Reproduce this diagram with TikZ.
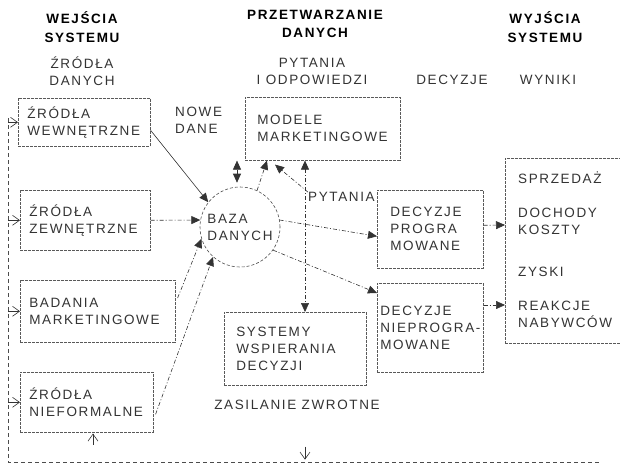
\documentclass[tikz,border=0pt]{standalone}
\usepackage{fontspec}
\setmainfont{Liberation Sans}[LetterSpace=12]
\usetikzlibrary{arrows.meta,calc}

\begin{document}
\begin{tikzpicture}[x=1pt,y=-1pt,
    font=\fontsize{13.5}{17}\selectfont,
    >={Triangle[length=9pt,width=8pt]},
    txt/.style={text=black!80,align=left,inner sep=0pt},
    head/.style={align=center,inner sep=0pt,font=\fontsize{13.5}{18.5}\selectfont\bfseries},
    box/.style={draw=black!65,dash pattern=on 3pt off 1pt,line width=0.6pt,text=black!80,
      anchor=north west,align=left,inner xsep=9pt,inner ysep=0pt},
    dsh/.style={draw=black!80,line width=0.6pt,dash pattern=on 4pt off 2pt on 1pt off 2pt},
    fb/.style={draw=black!70,line width=0.6pt,dash pattern=on 4pt off 3pt},
    fbtip/.style={draw=black!80,line width=0.6pt,-{Straight Barb[length=7pt,width=10pt]}}]
  \useasboundingbox (0,0) rectangle (620,466);

  \node[head] (hin) at (82,27) {WEJŚCIA\\SYSTEMU};
  \node[head] (hproc) at (315,24) {PRZETWARZANIE\\DANYCH};
  \node[head] (hout) at (545,27) {WYJŚCIA\\SYSTEMU};
  \node[txt,align=center] (src) at (82,71) {ŹRÓDŁA\\DANYCH};
  \node[txt,align=center] (qa) at (312,71) {PYTANIA\\I ODPOWIEDZI};
  \node[txt] (dec) at (452,80) {DECYZJE};
  \node[txt] (res) at (548,80) {WYNIKI};

  \node[box,minimum width=132,minimum height=48,text width=114] (wew) at (18,98) {ŹRÓDŁA\\WEWNĘTRZNE};
  \node[box,minimum width=130,minimum height=60,text width=112] (zew) at (20,190) {ŹRÓDŁA\\ZEWNĘTRZNE};
  \node[box,minimum width=155,minimum height=62,text width=137] (bad) at (20,280) {BADANIA\\MARKETINGOWE};
  \node[box,minimum width=133,minimum height=60,text width=115] (nieform) at (20,372) {ŹRÓDŁA\\NIEFORMALNE};
  \node[box,minimum width=155,minimum height=63,inner xsep=12pt,text width=131] (model) at (245,97) {MODELE\\MARKETINGOWE};
  \node[box,minimum width=106,minimum height=78,inner xsep=13pt,text width=80] (prog) at (377,190) {DECYZJE\\PROGRA\\MOWANE};
  \node[box,minimum width=106,minimum height=89,inner xsep=3pt,text width=100] (nprog) at (377,283) {DECYZJE\\\mbox{NIEPROGRA-}\\MOWANE};
  \node[box,minimum width=142,minimum height=73,inner xsep=12pt,text width=118] (syst) at (224,312) {SYSTEMY\\WSPIERANIA\\DECYZJI};
  \node[box,minimum width=130,minimum height=185] (wyn) at (505,158) {};
  \node[draw=black!70,dash pattern=on 3pt off 2pt,line width=0.6pt,circle,minimum size=80,
    inner sep=0pt,text=black!80,align=left] (baza) at (240,227) {BAZA\\DANYCH};

  \node[txt,anchor=west] (spr) at (518,178) {SPRZEDAŻ};
  \node[txt,anchor=west] (doch) at (518,221) {DOCHODY\\KOSZTY};
  \node[txt,anchor=west] (zysk) at (518,272) {ZYSKI};
  \node[txt,anchor=west] (reak) at (518,314) {REAKCJE\\NABYWCÓW};
  \node[txt,anchor=west] (nowe) at (175,120) {NOWE\\DANE};
  \node[txt,anchor=west] (pyt) at (308,197) {PYTANIA};
  \node[txt] (zasil) at (297,405) {ZASILANIE ZWROTNE};

  \draw[black!80,line width=0.6pt,->] ($(wew.east)+(0,8)$) -- (baza.142);
  \draw[dsh,->] (zew.east) -- (baza.170);
  \draw[dsh,->] ($(bad.north east)+(2,18)$) -- (baza.197);
  \draw[dsh,->] ($(nieform.east)+(2,12)$) -- (baza.228);
  \draw[dsh,->] (baza.65) -- ($(model.south west)+(22,0)$);
  \draw[dsh,<->] ($(baza.north)+(-3,-4)$) -- ($(model.south west)+(-8,0)$);
  \draw[dsh,<->] ($(model.south west)+(60,0)$) -- ($(syst.north west)+(81,0)$);
  \draw[dsh,->] (pyt.north west) -- ($(model.south west)+(30,4)$);
  \draw[dsh,->] (baza.10) -- ($(prog.west)+(0,7)$);
  \draw[dsh,->] (baza.-35) -- ($(nprog.north west)+(0,10)$);
  \draw[dsh,->] ($(prog.east)+(0,-4)$) -- ($(wyn.north west)+(0,67)$);
  \draw[dsh,->] ($(nprog.north east)+(0,22)$) -- ($(wyn.north west)+(0,147)$);

  \coordinate (fbtop) at (8,118);
  \coordinate (fbcorner) at (8,462);
  \coordinate (fbend) at (600,462);
  \draw[fb] (fbtop) -- (fbcorner) -- (fbend);
  \draw[fbtip] (fbtop |- wew.west) -- (wew.west);
  \draw[fbtip] (fbtop |- zew.west) -- (zew.west);
  \draw[fbtip] (fbtop |- bad.west) -- (bad.west);
  \draw[fbtip] (fbtop |- nieform.west) -- (nieform.west);
  \draw[fbtip] ($(nieform.south west)+(73,12)$) -- ($(nieform.south west)+(73,1)$);
  \draw[fbtip] ($(syst.south west)+(81,61)$) -- ($(syst.south west)+(81,74)$);
\end{tikzpicture}
\end{document}
